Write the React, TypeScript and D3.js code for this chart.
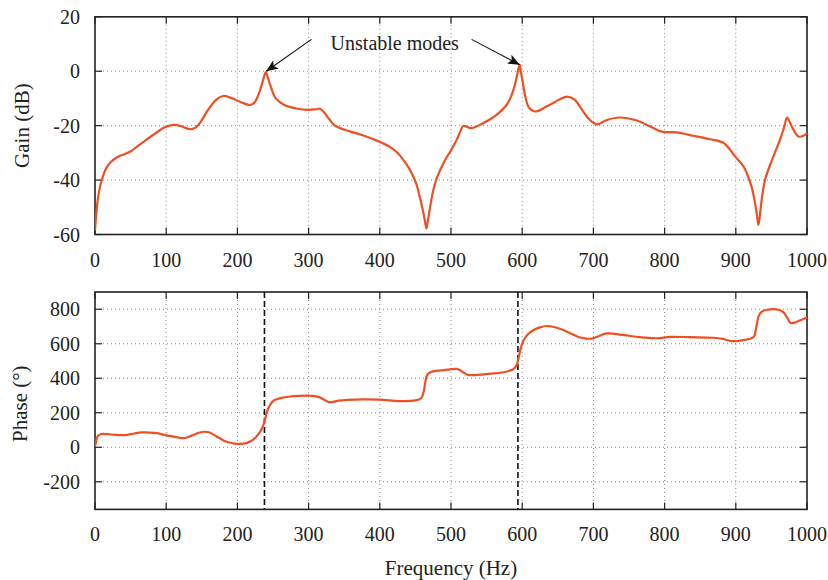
import React from "react";
import * as d3 from "d3";

const freqTicks = [0, 100, 200, 300, 400, 500, 600, 700, 800, 900, 1000];
const gainTicks = [-60, -40, -20, 0, 20];
const phaseTicks = [-200, 0, 200, 400, 600, 800];
const unstableFreqs = [238, 594];

const gainData: [number, number][] = [
  [0, -58.5], [2, -52], [4, -47], [7, -42.5], [11, -38.7], [16, -35.5], [23, -33.2], [30, -31.8], [35, -31.1],
  [43, -30.3], [51, -29.3], [60, -27.5], [72, -25.2], [85, -22.8], [98, -20.6], [110, -19.7], [121, -20.2],
  [130, -21.1], [136, -21.3], [142, -20.5], [148, -18.8], [158, -14.5], [170, -10.5], [180, -9.1], [191, -9.8],
  [205, -11.4], [218, -12.4], [224, -11.5], [229, -9], [234, -5.2], [238, -1.5], [240, -0.3], [243, -2.5],
  [247, -5.8], [254, -10], [266, -12.4], [285, -13.8], [299, -14.2], [310, -14], [316, -13.8], [322, -15.2],
  [328, -17.3], [336, -19.8], [345, -21], [358, -22.1], [377, -23.6], [396, -25.5], [414, -27.8], [424, -29.8],
  [432, -32.2], [439, -34.8], [445, -37.6], [451, -41.2], [456, -46], [460, -50.5], [463, -54.5], [465.5, -57.8],
  [467.5, -55], [470, -51], [475, -43.8], [480, -39.3], [485, -36.2], [492, -32.5], [499, -29.5], [508, -25.2],
  [513, -22.2], [517, -20.1], [520, -20.2], [529, -20.9], [545, -19.1], [564, -16], [578, -12.4], [584, -9.5],
  [588, -6.6], [592, -2.5], [595, 1.3], [596.5, 2.4], [598, 0], [601, -4.4], [605, -10], [609, -13.2],
  [618, -14.8], [634, -13], [653, -10.3], [663, -9.3], [674, -10.5], [681, -13], [695, -17.9], [705, -19.5],
  [719, -17.9], [737, -17], [761, -18.1], [780, -20.3], [796, -22.2], [817, -22.5], [840, -23.7], [864, -25],
  [882, -26.2], [890, -28.2], [899, -31.3], [911, -35], [917, -38.5], [922, -42.3], [926, -47], [929, -51.5],
  [931.8, -56.5], [934, -52.5], [936, -48], [941, -40], [950, -33.2], [962, -25.2], [968, -20.5], [972, -17],
  [976, -18.8], [980, -21], [988, -24], [995, -23.7], [1000, -22.8],
];

const phaseData: [number, number][] = [
  [0, 3], [1.5, 35], [3.3, 61], [6, 72], [9, 77], [18, 76], [28, 72], [42, 71], [55, 80], [65, 86], [84, 83],
  [102, 68], [115, 58], [124, 53], [131, 60], [138, 71], [146, 84], [154, 90], [160, 87], [166, 75], [174, 55],
  [182, 37], [190, 26], [196, 21], [204, 20], [212, 24], [220, 38], [226, 58], [231, 85], [234, 105], [237, 135],
  [239, 165], [241, 200], [244, 232], [248, 258], [253, 275], [262, 286], [272, 293], [287, 298], [300, 299],
  [310, 295], [316, 288], [322, 275], [328, 262], [334, 263], [342, 270], [355, 275], [377, 278], [400, 276],
  [428, 268], [448, 270], [455, 277], [459, 290], [462, 330], [464, 380], [466, 415], [469, 430], [475, 440],
  [490, 447], [508, 454], [513, 446], [518, 432], [524, 420], [534, 418], [546, 423], [560, 428], [574, 435],
  [583, 445], [588, 455], [592, 475], [595, 520], [598, 575], [602, 620], [608, 655], [616, 680], [625, 695],
  [635, 703], [645, 697], [655, 684], [668, 660], [680, 638], [690, 630], [698, 630], [708, 645], [719, 660],
  [742, 651], [765, 638], [789, 632], [808, 640], [836, 638], [868, 635], [882, 628], [894, 615], [910, 621],
  [922, 632], [926, 645], [928, 680], [930, 720], [932, 760], [936, 785], [944, 797], [960, 797], [967, 782],
  [973, 745], [977, 720], [982, 722], [990, 735], [1000, 752],
];

// annotation: label position and arrows (data coords: freq, gain)
const annotationLabel = { text: "Unstable modes", f: 421, g: 7.8 };
const annotationArrows: { from: [number, number]; to: [number, number] }[] = [
  { from: [304, 11.7], to: [240.5, 0] },
  { from: [529, 11.7], to: [596.5, 2.4] },
];

const W = 828;
const H = 580;
const left = 95;
const right = 807;
const FONT = "Liberation Serif, Times New Roman, Tinos, DejaVu Serif, serif";
const LINE_COLOR = "#f04e23";

export default function App() {
  const x = d3.scaleLinear().domain([0, 1000]).range([left, right]);
  const yG = d3.scaleLinear().domain([-60, 20]).range([234.5, 16.8]);
  const yP = d3.scaleLinear().domain([-360, 900]).range([509.4, 292]);

  const gainLine = d3
    .line<[number, number]>()
    .x((d) => x(d[0]))
    .y((d) => yG(d[1]))
    .curve(d3.curveCatmullRom.alpha(0.5));
  const phaseLine = d3
    .line<[number, number]>()
    .x((d) => x(d[0]))
    .y((d) => yP(d[1]))
    .curve(d3.curveCatmullRom.alpha(0.5));

  const tickLen = 7;
  const textStyle = { fontFamily: FONT };
  const panel = (
    yScale: d3.ScaleLinear<number, number>,
    yTicks: number[],
    key: string
  ) => {
    const [y0, y1] = yScale.range(); // bottom, top
    return (
      <g key={key}>
        {freqTicks
          .filter((t) => t > 0 && t < 1000)
          .map((t) => (
            <line
              key={"gx" + t}
              x1={x(t)}
              x2={x(t)}
              y1={y1}
              y2={y0}
              stroke="#888"
              strokeWidth={1}
              strokeDasharray="1,3"
            />
          ))}
        {yTicks
          .filter((t) => yScale(t) < y0 - 1 && yScale(t) > y1 + 1)
          .map((t) => (
            <line
              key={"gy" + t}
              x1={left}
              x2={right}
              y1={yScale(t)}
              y2={yScale(t)}
              stroke="#888"
              strokeWidth={1}
              strokeDasharray="1,3"
            />
          ))}
        {freqTicks.map((t) => (
          <g key={"tx" + t}>
            <line x1={x(t)} x2={x(t)} y1={y0} y2={y0 - tickLen} stroke="#222" strokeWidth={1.2} />
            <line x1={x(t)} x2={x(t)} y1={y1} y2={y1 + tickLen} stroke="#222" strokeWidth={1.2} />
            <text x={x(t)} y={y0 + 32} textAnchor="middle" style={textStyle} fontSize={20} fill="#222">
              {t}
            </text>
          </g>
        ))}
        {yTicks.map((t) => (
          <g key={"ty" + t}>
            <line x1={left} x2={left + tickLen} y1={yScale(t)} y2={yScale(t)} stroke="#222" strokeWidth={1.2} />
            <line x1={right} x2={right - tickLen} y1={yScale(t)} y2={yScale(t)} stroke="#222" strokeWidth={1.2} />
            <text x={80} y={yScale(t) + 7} textAnchor="end" style={textStyle} fontSize={20} fill="#222">
              {String(t)}
            </text>
          </g>
        ))}
        <rect x={left} y={y1} width={right - left} height={y0 - y1} fill="none" stroke="#222" strokeWidth={1.6} />
      </g>
    );
  };

  const arrowMarkerId = "arrowHead";

  return (
    <svg
      width={W}
      height={H}
      viewBox={`0 0 ${W} ${H}`}
      style={{ position: "absolute", left: 0, top: 0, background: "#fff" }}
    >
      <defs>
        <marker
          id={arrowMarkerId}
          viewBox="0 0 12 10"
          refX={12}
          refY={5}
          markerWidth={12}
          markerHeight={10}
          markerUnits="userSpaceOnUse"
          orient="auto"
        >
          <path d="M0,0 L12,5 L0,10 L3,5 Z" fill="#111" />
        </marker>
        <clipPath id="clipG">
          <rect x={left} y={16.8} width={right - left} height={234.5 - 16.8} />
        </clipPath>
        <clipPath id="clipP">
          <rect x={left} y={292} width={right - left} height={509.4 - 292} />
        </clipPath>
      </defs>
      <rect x={0} y={0} width={W} height={H} fill="#fff" />

      {panel(yG, gainTicks, "gain")}
      {panel(yP, phaseTicks, "phase")}

      {unstableFreqs.map((f) => (
        <line
          key={"u" + f}
          x1={x(f)}
          x2={x(f)}
          y1={292}
          y2={509.4}
          stroke="#111"
          strokeWidth={1.6}
          strokeDasharray="6,3"
        />
      ))}

      <path d={gainLine(gainData) ?? ""} fill="none" stroke={LINE_COLOR} strokeWidth={2.2} clipPath="url(#clipG)" strokeLinejoin="round" />
      <path d={phaseLine(phaseData) ?? ""} fill="none" stroke={LINE_COLOR} strokeWidth={2.2} clipPath="url(#clipP)" strokeLinejoin="round" />

      <text
        x={x(annotationLabel.f)}
        y={yG(annotationLabel.g)}
        textAnchor="middle"
        style={textStyle}
        fontSize={20}
        fill="#222"
      >
        {annotationLabel.text}
      </text>
      {annotationArrows.map((a, i) => (
        <line
          key={"a" + i}
          x1={x(a.from[0])}
          y1={yG(a.from[1])}
          x2={x(a.to[0])}
          y2={yG(a.to[1])}
          stroke="#111"
          strokeWidth={1.1}
          markerEnd={`url(#${arrowMarkerId})`}
        />
      ))}

      <text
        transform={`translate(29, ${(16.8 + 234.5) / 2}) rotate(-90)`}
        textAnchor="middle"
        style={textStyle}
        fontSize={21}
        fill="#222"
      >
        Gain (dB)
      </text>
      <text
        transform={`translate(27, ${(292 + 509.4) / 2 + 3}) rotate(-90)`}
        textAnchor="middle"
        style={textStyle}
        fontSize={21}
        fill="#222"
      >
        Phase (°)
      </text>
      <text x={(left + right) / 2} y={575} textAnchor="middle" style={textStyle} fontSize={21} fill="#222">
        Frequency (Hz)
      </text>
    </svg>
  );
}
